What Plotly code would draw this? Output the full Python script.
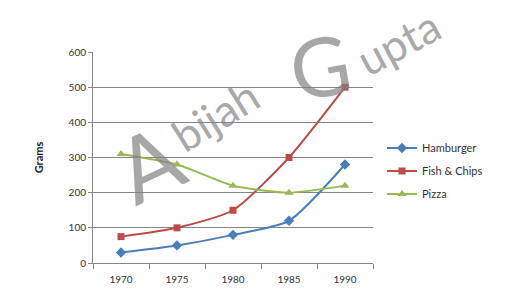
import plotly.graph_objects as go

years = ["1970", "1975", "1980", "1985", "1990"]
hamburger = [30, 50, 80, 120, 280]
fish_chips = [75, 100, 150, 300, 500]
pizza = [310, 280, 220, 200, 220]
y_ticks = [0, 100, 200, 300, 400, 500, 600]

L, R, T, B = 93, 373, 52, 263
W, H = 512, 297

def px(x):
    return (x - L) / (R - L)

def py(y):
    return (B - y) / (B - T)

fig = go.Figure()
series = [
    ("Hamburger", hamburger, "#4A7EBB", "diamond", 8),
    ("Fish & Chips", fish_chips, "#BE4B48", "square", 7),
    ("Pizza", pizza, "#98B954", "triangle-up", 8),
]
for name, vals, col, sym, sz in series:
    fig.add_trace(go.Scatter(
        x=years, y=vals, name=name, mode="lines+markers", legendgroup=name,
        line=dict(color=col, width=2, shape="spline", smoothing=0.6),
        marker=dict(symbol=sym, size=sz, color=col),
    ))

wm = "rgba(130,130,130,0.7)"
font_wm = "Lato"
for text, x, y, size, ang in [
    ("A", 148, 162, 90, -25),
    ("bijah", 215, 115, 44, -32),
    ("G", 320, 65, 82, -10),
    ("upta", 398, 42, 44, -28),
]:
    fig.add_annotation(text=text, x=px(x), y=py(y), xref="paper", yref="paper",
                       showarrow=False, textangle=ang,
                       font=dict(size=size, color=wm, family=font_wm),
                       xanchor="center", yanchor="middle")

fig.update_layout(
    width=W, height=H,
    margin=dict(l=L, r=W - R, t=T, b=H - B),
    paper_bgcolor="white", plot_bgcolor="white",
    font=dict(family="Lato", size=10, color="#333333"),
    showlegend=True,
    legend=dict(x=px(382), y=py(171), xanchor="left", yanchor="middle",
                font=dict(size=11, color="#333333"), tracegroupgap=4,
                itemwidth=30, bgcolor="rgba(0,0,0,0)"),
    xaxis=dict(
        type="category", categoryorder="array", categoryarray=years,
        showgrid=False, showline=True, linecolor="#868686", linewidth=1,
        ticks="outside", tickson="boundaries", ticklen=5, tickcolor="#868686",
        tickfont=dict(size=10, color="#333333"), ticklabelstandoff=7,
        range=[-0.5, 4.5],
    ),
    yaxis=dict(
        range=[0, 600], tickvals=y_ticks, showgrid=True, gridcolor="#868686",
        gridwidth=1, showline=True, linecolor="#868686", linewidth=1,
        ticks="outside", ticklen=4, tickcolor="#868686",
        tickfont=dict(size=10, color="#333333"), zeroline=False,
        title=dict(text="<b>Grams</b>", font=dict(size=11, color="#222222"), standoff=22),
    ),
)

fig.write_html("out.html")
